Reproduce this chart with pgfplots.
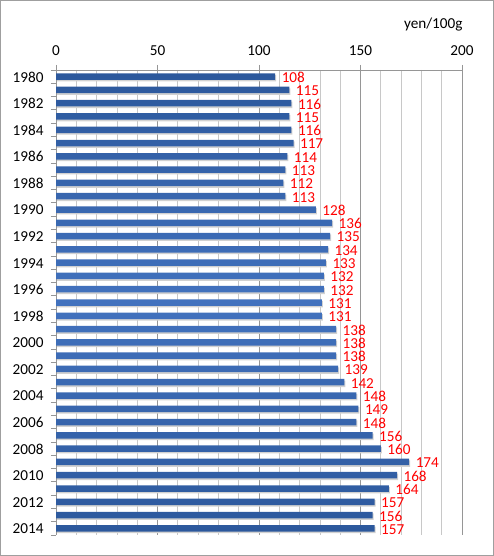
\documentclass[border=0pt]{standalone}
\usepackage{fontspec}
\setmainfont{Carlito}
\usepackage{pgfplots}
\usepackage{pgfplotstable}
\pgfplotsset{compat=1.18}

\definecolor{barblue}{RGB}{66,114,190}
\definecolor{bardark}{RGB}{44,88,156}
\definecolor{gridminor}{RGB}{200,200,200}
\definecolor{gridmajor}{RGB}{150,150,150}

% price per 100g, 1980-2014, category index 0..34
\pgfplotstableread{
idx price
0 108
1 115
2 116
3 115
4 116
5 117
6 114
7 113
8 112
9 113
10 128
11 136
12 135
13 134
14 133
15 132
16 132
17 131
18 131
19 138
20 138
21 138
22 139
23 142
24 148
25 149
26 148
27 156
28 160
29 174
30 168
31 164
32 157
33 156
34 157
}\pricedata

\newcommand{\lbl}{\fontsize{15.2}{17}\selectfont}

\begin{document}
\begin{tikzpicture}
\useasboundingbox (0,0) rectangle (494pt,556pt);
\draw[gray!75, line width=1pt] (0.5pt,0.5pt) rectangle (493.5pt,555.5pt);
\begin{axis}[
    at={(56pt,21pt)}, anchor=south west,
    scale only axis,
    width=406pt, height=465pt,
    xmin=0, xmax=200,
    ymin=-0.5, ymax=34.5,
    y dir=reverse,
    axis x line*=top,
    axis y line*=left,
    axis line style={gridmajor, line width=0.8pt},
    xtick={0,50,...,200},
    minor x tick num=4,
    xmajorgrids=true, xminorgrids=true,
    major x grid style={gridmajor, line width=0.8pt},
    minor x grid style={gridminor, line width=0.8pt},
    ytick={-0.5,0.5,...,34.5},
    yticklabels={},
    extra y ticks={0,2,...,34},
    extra y tick labels={1980,1982,1984,1986,1988,1990,1992,1994,1996,1998,2000,2002,2004,2006,2008,2010,2012,2014},
    extra y tick style={tick style={draw=none}, grid=none, yticklabel style={xshift=-4pt, yshift=-0.5pt, inner ysep=0pt}},
    tick align=outside,
    major tick length=5pt,
    minor tick length=0pt,
    tick style={gridmajor, line width=0.8pt},
    ticklabel style={font=\lbl},
    xticklabel style={yshift=6pt},
    /pgf/number format/assume math mode=true,
    clip=false,
]
\addplot[xbar, bar width=6.5pt, bar shift=-1.6pt, draw=none, fill=black!18, xshift=1pt]
    table[x=price, y=idx] {\pricedata};
\addplot[xbar, bar width=6.5pt, bar shift=0pt, draw=none,
    top color=bardark, bottom color=bardark, middle color=barblue,
    nodes near coords,
    nodes near coords style={font=\lbl, text=red, anchor=west, inner ysep=0pt, xshift=3pt, yshift=-1pt}]
    table[x=price, y=idx] {\pricedata};
\end{axis}
\node[anchor=east, font=\lbl] at (466pt,531pt) {yen/100g};
\end{tikzpicture}
\end{document}
